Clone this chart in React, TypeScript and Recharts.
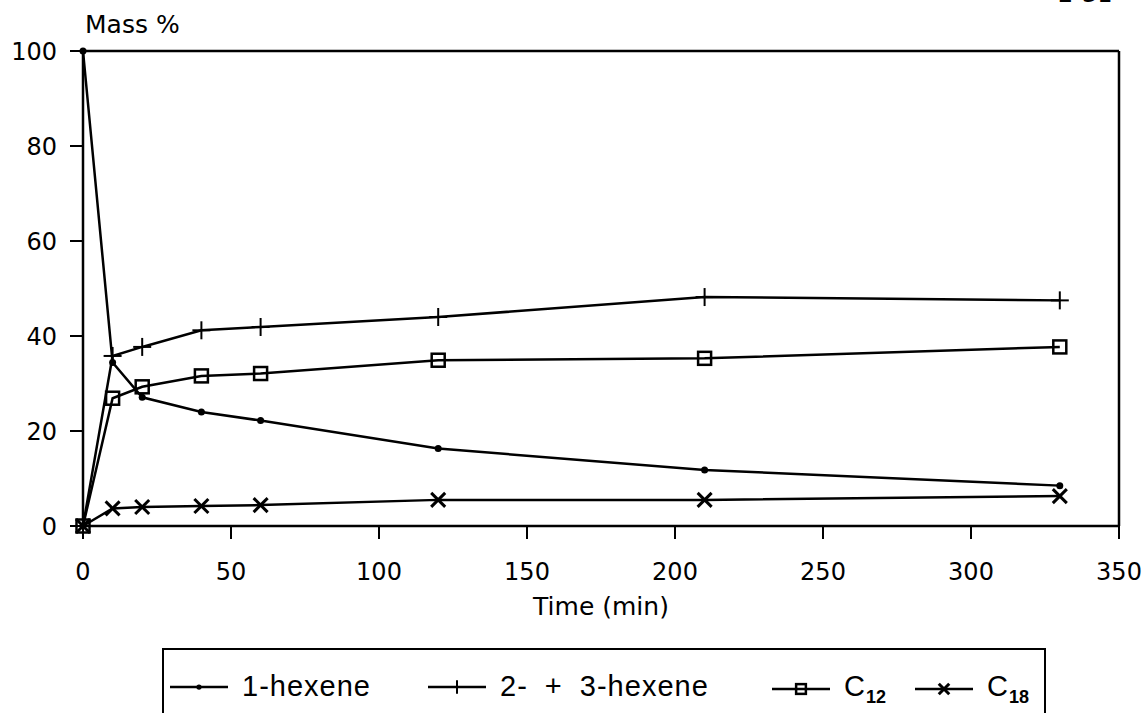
import React from "react";
import { LineChart, Line, XAxis, YAxis, ReferenceLine } from "recharts";

// sampling times (min)
const TIME = [0, 10, 20, 40, 60, 120, 210, 330];
// mass % per product
const HEXENE_1 = [100, 34.4, 27.1, 24.0, 22.2, 16.3, 11.8, 8.5];
const HEXENE_23 = [0, 35.8, 37.7, 41.2, 41.9, 44.0, 48.2, 47.5];
const C12 = [0, 26.9, 29.3, 31.6, 32.1, 34.9, 35.3, 37.7];
const C18 = [0, 3.7, 4.0, 4.2, 4.4, 5.5, 5.5, 6.3];

const X_TICKS = [0, 50, 100, 150, 200, 250, 300, 350];
const Y_TICKS = [0, 20, 40, 60, 80, 100];

type Marker = "dot" | "plus" | "square" | "cross";

const SERIES: { key: string; name: string; sub?: string; marker: Marker }[] = [
  { key: "h1", name: "1-hexene", marker: "dot" },
  { key: "h23", name: "2- + 3-hexene", marker: "plus" },
  { key: "c12", name: "C", sub: "12", marker: "square" },
  { key: "c18", name: "C", sub: "18", marker: "cross" },
];

const data = TIME.map((t, i) => ({
  t,
  h1: HEXENE_1[i],
  h23: HEXENE_23[i],
  c12: C12[i],
  c18: C18[i],
}));

const FONT = "'DejaVu Sans', sans-serif";

function markerShape(marker: Marker, cx: number, cy: number, key?: string | number, small = false) {
  const s = small ? 0.75 : 1;
  switch (marker) {
    case "dot":
      return <circle key={key} cx={cx} cy={cy} r={3.5 * s} fill="#000" />;
    case "plus":
      return (
        <g key={key} stroke="#000" strokeWidth={2}>
          <line x1={cx - 9 * s} y1={cy} x2={cx + 9 * s} y2={cy} />
          <line x1={cx} y1={cy - 9 * s} x2={cx} y2={cy + 9 * s} />
        </g>
      );
    case "square":
      return (
        <rect key={key} x={cx - 6.5 * s} y={cy - 6.5 * s} width={13 * s} height={13 * s}
          fill="none" stroke="#000" strokeWidth={2.5} />
      );
    case "cross":
      return (
        <g key={key} stroke="#000" strokeWidth={3}>
          <line x1={cx - 7 * s} y1={cy - 7 * s} x2={cx + 7 * s} y2={cy + 7 * s} />
          <line x1={cx - 7 * s} y1={cy + 7 * s} x2={cx + 7 * s} y2={cy - 7 * s} />
        </g>
      );
  }
}

const makeDot = (marker: Marker) => (props: any) => {
  const { cx, cy, index } = props;
  return markerShape(marker, cx, cy, `${marker}-${index}`);
};

const LegendBox = () => (
  <div
    style={{
      position: "absolute",
      left: 162,
      top: 648,
      width: 884,
      height: 90,
      border: "2px solid #000",
      boxSizing: "border-box",
      fontFamily: "'Liberation Sans', Arial, sans-serif",
      fontSize: 29,
      letterSpacing: 1,
      color: "#000",
    }}
  >
    {SERIES.map((s, i) => {
      const iconLeft = [6, 264, 608, 751][i];
      return (
        <div key={s.key} style={{ position: "absolute", left: iconLeft, top: 20, display: "flex", alignItems: "center", whiteSpace: "nowrap" }}>
          <svg width={58} height={24} style={{ marginRight: 14 }}>
            <line x1={0} y1={12} x2={58} y2={12} stroke="#000" strokeWidth={2.5} />
            {markerShape(s.marker, 29, 12, undefined, true)}
          </svg>
          <span style={{ wordSpacing: i === 1 ? 8 : 0 }}>
            {s.name}
            {s.sub && <sub style={{ fontSize: 18, fontWeight: "bold", letterSpacing: 0 }}>{s.sub}</sub>}
          </span>
        </div>
      );
    })}
  </div>
);

export default function App() {
  return (
    <div style={{ position: "absolute", left: 0, top: 0, width: 1148, height: 713, background: "#fff", overflow: "hidden" }}>
      <div style={{ position: "absolute", left: 1058, top: -20, fontFamily: FONT, fontSize: 24 }}>2-31</div>
      <div style={{ position: "absolute", left: 85, top: 10, fontFamily: FONT, fontSize: 25, lineHeight: "30px" }}>
        Mass %
      </div>
      <LineChart
        width={1148}
        height={713}
        data={data}
        margin={{ top: 51, right: 29, left: 23, bottom: 87 }}
      >
        <XAxis
          dataKey="t"
          type="number"
          domain={[0, 350]}
          ticks={X_TICKS}
          interval={0}
          height={100}
          tickSize={13}
          tickMargin={24}
          axisLine={{ stroke: "#000", strokeWidth: 2.5 }}
          tickLine={{ stroke: "#000", strokeWidth: 2 }}
          tick={{ fill: "#000", fontSize: 24, fontFamily: FONT }}
          label={{ value: "Time (min)", position: "insideBottom", offset: 11, fill: "#000", fontSize: 25, fontFamily: FONT }}
        />
        <YAxis
          type="number"
          domain={[0, 100]}
          ticks={Y_TICKS}
          interval={0}
          width={60}
          tickSize={13}
          tickMargin={13}
          axisLine={{ stroke: "#000", strokeWidth: 2.5 }}
          tickLine={{ stroke: "#000", strokeWidth: 2 }}
          tick={{ fill: "#000", fontSize: 24, fontFamily: FONT }}
        />
        <ReferenceLine y={100} stroke="#000" strokeWidth={2.5} />
        <ReferenceLine x={350} stroke="#000" strokeWidth={2.5} />
        {SERIES.map((s) => (
          <Line
            key={s.key}
            dataKey={s.key}
            type="linear"
            stroke="#000"
            strokeWidth={2.5}
            dot={makeDot(s.marker)}
            activeDot={false}
            isAnimationActive={false}
          />
        ))}
      </LineChart>
      <LegendBox />
    </div>
  );
}
